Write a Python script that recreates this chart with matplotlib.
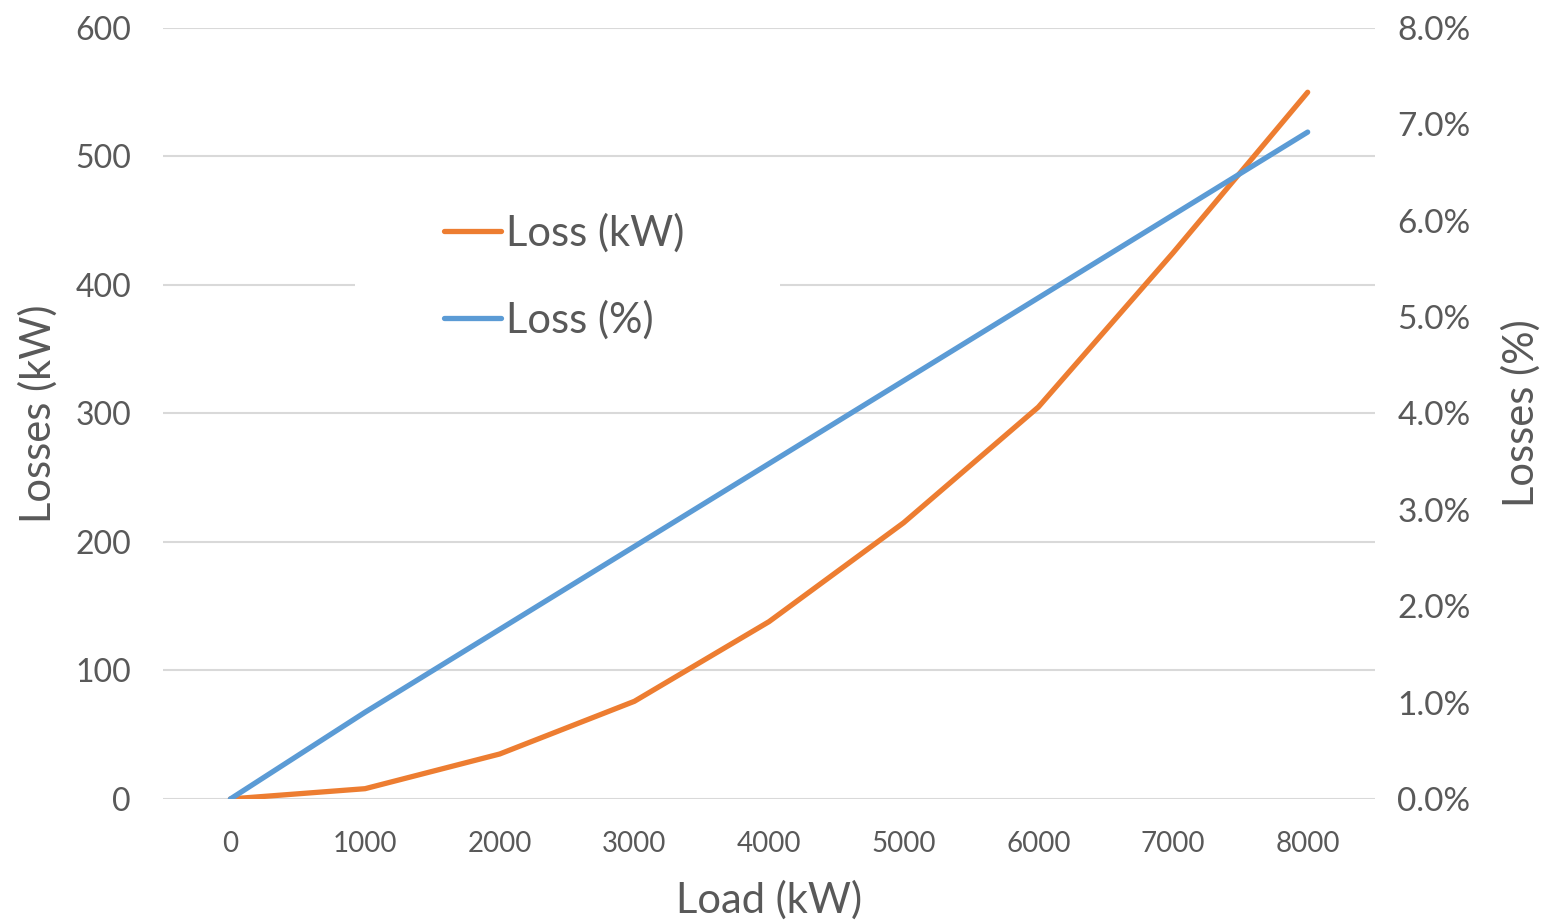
import matplotlib
matplotlib.use("Agg")
import matplotlib.pyplot as plt
from matplotlib.patches import Rectangle
from matplotlib.ticker import FuncFormatter, MultipleLocator

# ---- data ----
load_kw = [0, 1000, 2000, 3000, 4000, 5000, 6000, 7000, 8000]
loss_kw = [0, 8, 35, 76, 138, 215, 305, 425, 550]
loss_pct = [0.0, 0.90, 1.76, 2.62, 3.48, 4.34, 5.20, 6.06, 6.92]
x_label = "Load (kW)"
y_left_label = "Losses (kW)"
y_right_label = "Losses (%)"
series_names = ["Loss (kW)", "Loss (%)"]

ORANGE = "#ED7D31"
BLUE = "#5B9BD5"
GRID = "#D9D9D9"
TXT = "#595959"

plt.rcParams['font.family'] = ['Lato', 'DejaVu Sans']

fig = plt.figure(figsize=(15.5, 9.21), dpi=100)
ax = fig.add_axes([0.1052, 0.1325, 0.7819, 0.8371])
ax2 = ax.twinx()

idx = list(range(len(load_kw)))
l1, = ax.plot(idx, loss_kw, color=ORANGE, lw=3.8, solid_capstyle='round', zorder=3)
l2, = ax2.plot(idx, loss_pct, color=BLUE, lw=3.8, solid_capstyle='round', zorder=3)

ax.set_xlim(-0.5, len(load_kw) - 0.5)
ax.set_ylim(0, 600)
ax2.set_ylim(0, 8)
ax.yaxis.set_major_locator(MultipleLocator(100))
ax2.yaxis.set_major_locator(MultipleLocator(1))
ax2.yaxis.set_major_formatter(FuncFormatter(lambda v, p: f"{v:.1f}%"))
ax.set_xticks(idx)
ax.set_xticklabels([str(v) for v in load_kw])

ax.set_axisbelow(True)
ax.grid(axis='y', color=GRID, lw=1.5)
for a in (ax, ax2):
    for s in a.spines.values():
        s.set_visible(False)
ax.tick_params(axis='y', length=0, pad=23, labelsize=23, labelcolor=TXT)
ax.tick_params(axis='x', length=0, pad=23, labelsize=20, labelcolor=TXT)
ax2.tick_params(axis='y', length=0, pad=16, labelsize=24, labelcolor=TXT)

ax.set_xlabel(x_label, fontsize=30, color=TXT)
ax.xaxis.set_label_coords(0.50, -0.105)
ax.set_ylabel(y_left_label, fontsize=30, color=TXT)
ax.yaxis.set_label_coords(-0.087, 0.5)
ax2.set_ylabel(y_right_label, fontsize=30, color=TXT, rotation=90)
ax2.yaxis.set_label_coords(1.104, 0.5)

# white legend area hiding the gridline behind it
ax.add_patch(Rectangle((0.158, 0.56), 0.351, 0.22, transform=ax.transAxes,
                       facecolor='white', edgecolor='none', zorder=1))

leg = ax2.legend([l1, l2], series_names, loc='center left',
                 bbox_to_anchor=(0.232, 0.678), frameon=False,
                 fontsize=30, handlelength=1.37, handletextpad=0.12,
                 labelspacing=1.15, borderaxespad=0, borderpad=0)
for t in leg.get_texts():
    t.set_color(TXT)

fig.savefig("out.png", dpi=100, facecolor='white')
